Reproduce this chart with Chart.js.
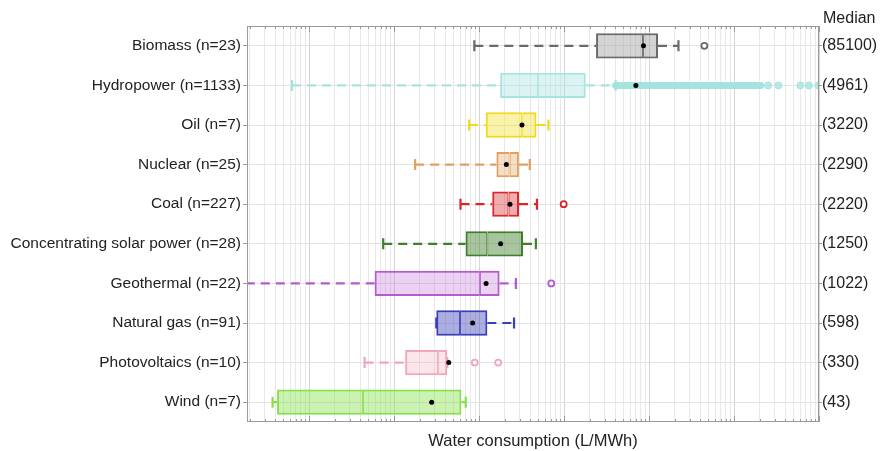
<!DOCTYPE html>
<html>
<head>
<meta charset="utf-8">
<title>Water consumption by technology</title>
<script src="https://cdn.jsdelivr.net/npm/chart.js@4.4.1/dist/chart.umd.min.js"></script>
<style>
  html, body { margin: 0; padding: 0; background: #fff; }
  #wrap { width: 882px; height: 451px; position: relative; }
</style>
</head>
<body>
<div id="wrap"><canvas id="waterChart"></canvas></div>
<script>
/* -----------------------------
   Data (L/MWh), top to bottom
------------------------------ */
const categories = [
  'Biomass (n=23)', 'Hydropower (n=1133)', 'Oil (n=7)', 'Nuclear (n=25)', 'Coal (n=227)',
  'Concentrating solar power (n=28)', 'Geothermal (n=22)', 'Natural gas (n=91)',
  'Photovoltaics (n=10)', 'Wind (n=7)'
];
const medians = [85100, 4961, 3220, 2290, 2220, 1250, 1022, 598, 330, 43];
const medianLabels = ['(85100)', '(4961)', '(3220)', '(2290)', '(2220)', '(1250)', '(1022)', '(598)', '(330)', '(43)'];
const q1 = [23800, 1770, 1200, 1600, 1430, 695, 59, 314, 135, 4.2];
const q3 = [127600, 18000, 4740, 2945, 2950, 3290, 1745, 1252, 423, 620];
const whiskerLow = [880, 6.3, 765, 177, 605, 74.5, 1.8, 314, 45, 3.72];
const whiskerHigh = [222000, 40500, 6550, 3950, 4800, 4660, 2715, 2580, 423, 697];
const means = [86000, 70000, 3200, 2095, 2310, 1795, 1210, 840, 440, 277];
const outliers = [[448000], [2520000, 3340000, 6040000, 7600000, 9800000], [], [], [9900], [], [7070], [], [890, 1680], []];
// hydropower: overlapping outlier circles form two solid runs
const hydroBand = [[40500, 758000], [822000, 2070000]];

const lineColors = ['#6a6a6a', '#a6e4e0', '#f0da1e', '#e1a05e', '#d9262a', '#3f7f2a', '#b65ad0', '#3a3fb8', '#f2a6b7', '#86e04a'];
const fillColors = [
  'rgba(160,160,160,0.45)', 'rgba(166,228,224,0.40)', 'rgba(240,222,40,0.40)', 'rgba(225,160,94,0.35)',
  'rgba(217,38,42,0.38)', 'rgba(63,127,42,0.45)', 'rgba(182,90,208,0.28)', 'rgba(58,63,184,0.42)',
  'rgba(242,166,183,0.28)', 'rgba(134,224,74,0.42)'
];

Chart.defaults.font.family = '"Liberation Sans", Arial, Helvetica, sans-serif';
Chart.defaults.color = '#222';

const isDecade = v => Math.abs(Math.log10(v) - Math.round(Math.log10(v))) < 1e-9;

/* -----------------------------
   Datasets
------------------------------ */
const boxLower = {
  type: 'bar', label: 'lower', order: 2, grouped: false,
  data: categories.map((c, i) => [q1[i], medians[i]]),
  backgroundColor: fillColors, borderColor: lineColors,
  borderWidth: { top: 2, bottom: 2, left: 2, right: 1 }, borderSkipped: false,
  categoryPercentage: 1, barPercentage: 0.64
};
const boxUpper = {
  type: 'bar', label: 'upper', order: 2, grouped: false,
  data: categories.map((c, i) => [medians[i], q3[i]]),
  backgroundColor: fillColors, borderColor: lineColors,
  borderWidth: { top: 2, bottom: 2, left: 1, right: 2 }, borderSkipped: false,
  categoryPercentage: 1, barPercentage: 0.64
};

const whiskers = categories.map((c, i) => ({
  type: 'line', label: 'whisker ' + c, order: 3, indexAxis: 'y',
  data: [
    { x: whiskerLow[i], y: c }, { x: q1[i], y: c }, { x: null, y: c },
    { x: q3[i], y: c }, { x: whiskerHigh[i], y: c }
  ],
  borderColor: lineColors[i], borderWidth: 2.2, borderDash: [9, 6], spanGaps: false,
  pointStyle: 'line', rotation: 90, pointRadius: [5.5, 0, 0, 0, 5.5],
  pointBorderWidth: 2.2, pointBorderColor: lineColors[i], pointHoverRadius: 0
}));

const outlierSets = categories.map((c, i) => ({
  type: 'line', label: 'outliers ' + c, order: 1, indexAxis: 'y', showLine: false,
  data: outliers[i].map(v => ({ x: v, y: c })),
  pointRadius: i === 1 ? 3.5 : 3, pointBorderWidth: i === 1 ? 1 : 1.8,
  pointBorderColor: lineColors[i],
  pointBackgroundColor: i === 1 ? 'rgba(166,228,224,0.8)' : '#fff'
})).filter(d => d.data.length);

const hydroRun = {
  type: 'line', label: 'hydro outliers', order: 1, indexAxis: 'y',
  data: [
    { x: hydroBand[0][0], y: categories[1] }, { x: hydroBand[0][1], y: categories[1] }, { x: null, y: categories[1] },
    { x: hydroBand[1][0], y: categories[1] }, { x: hydroBand[1][1], y: categories[1] }
  ],
  borderColor: 'rgba(160,226,221,0.95)', borderWidth: 7, borderCapStyle: 'round',
  spanGaps: false, pointRadius: 0
};

const meanSet = {
  type: 'line', label: 'mean', order: 0, indexAxis: 'y', showLine: false,
  data: categories.map((c, i) => ({ x: means[i], y: c })),
  pointRadius: 2.5, pointBackgroundColor: '#000', pointBorderWidth: 0
};

/* -----------------------------
   Frame, inner ticks, "Median" header
------------------------------ */
const framePlugin = {
  id: 'frame',
  afterDraw(chart) {
    const { ctx, chartArea: a } = chart;
    const xs = chart.scales.x;
    ctx.save();
    ctx.strokeStyle = '#9a9a9a';
    ctx.lineWidth = 1;
    xs.ticks.forEach(t => {
      const px = Math.round(xs.getPixelForValue(t.value)) + 0.5;
      const len = isDecade(t.value) ? 6 : 3;
      ctx.beginPath();
      ctx.moveTo(px, a.bottom); ctx.lineTo(px, a.bottom - len);
      ctx.moveTo(px, a.top); ctx.lineTo(px, a.top + len);
      ctx.stroke();
    });
    ctx.strokeRect(a.left + 0.5, a.top + 0.5, a.width - 1, a.height - 1);
    ctx.fillStyle = '#222';
    ctx.font = '16px "Liberation Sans", Arial, sans-serif';
    ctx.textBaseline = 'middle';
    ctx.fillText('Median', a.right + 4, 19);
    ctx.restore();
  }
};

new Chart(document.getElementById('waterChart'), {
  type: 'bar',
  data: {
    labels: categories,
    datasets: [meanSet, hydroRun, ...outlierSets, boxLower, boxUpper, ...whiskers]
  },
  options: {
    indexAxis: 'y',
    responsive: true,
    maintainAspectRatio: false,
    animation: false,
    layout: { padding: { top: 26, right: 0, bottom: 0, left: 0 } },
    plugins: { legend: { display: false }, tooltip: { enabled: false } },
    scales: {
      x: {
        type: 'logarithmic', position: 'bottom', min: 1.86, max: 1e7,
        afterBuildTicks: scale => {
          const t = [];
          for (let e = 0; e <= 7; e++) {
            for (let m = 1; m <= 9; m++) {
              const v = m * Math.pow(10, e);
              if (v >= scale.min && v <= scale.max) t.push({ value: v });
            }
          }
          scale.ticks = t;
        },
        ticks: { display: false },
        grid: { color: c => (c.tick && isDecade(c.tick.value)) ? '#d6d6d6' : '#e9e9e9', drawTicks: false },
        border: { display: false },
        title: { display: true, text: 'Water consumption (L/MWh)', font: { size: 16.5 }, color: '#222', padding: { top: 0, bottom: 0 } },
        afterFit: s => { s.height = 29; }
      },
      y: {
        type: 'category', position: 'left', offset: true,
        grid: { offset: false, color: '#e3e3e3', tickColor: '#9a9a9a', tickLength: 4 },
        border: { display: false },
        ticks: { font: { size: 15.5 }, color: '#222', padding: 2, autoSkip: false },
        afterFit: s => { s.width = 247; }
      },
      y2: {
        type: 'category', position: 'right', offset: true, labels: medianLabels,
        grid: { offset: false, drawOnChartArea: false, tickColor: '#9a9a9a', tickLength: 3 },
        border: { display: false },
        ticks: { font: { size: 16 }, color: '#222', padding: 0, autoSkip: false },
        afterFit: s => { s.width = 63; }
      }
    }
  },
  plugins: [framePlugin]
});
</script>
</body>
</html>
